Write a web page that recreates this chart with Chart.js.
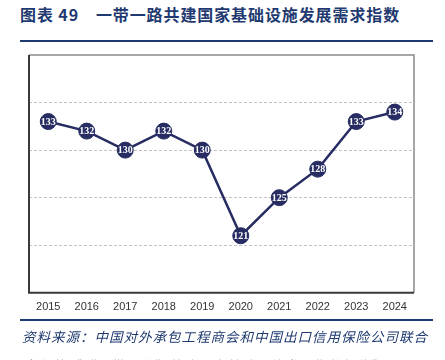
<!DOCTYPE html>
<html>
<head>
<meta charset="utf-8">
<script src="https://cdn.jsdelivr.net/npm/chart.js@4"></script>
<style>
  html, body { margin: 0; padding: 0; background: #fff; }
  body { width: 445px; height: 360px; position: relative; overflow: hidden; }
  #chart { position: absolute; left: 0; top: 0; }
  .title {
    position: absolute; left: 20px; top: 2px;
    font-family: "Noto Sans CJK SC", sans-serif; font-weight: 700;
    font-size: 16px; color: #1f3a70; letter-spacing: 0.9px; white-space: nowrap;
  }
  .rule { position: absolute; left: 20px; width: 413px; height: 2px; background: #1f3a70; }
  .source {
    position: absolute; left: 22px;
    font-family: "Noto Sans CJK SC", sans-serif; font-style: italic;
    font-size: 13.5px; color: #1f3a70; letter-spacing: 1px; white-space: nowrap;
  }
</style>
</head>
<body>
<div class="title">图表 49　一带一路共建国家基础设施发展需求指数</div>
<div class="rule" style="top:40px"></div>
<canvas id="chart" width="445" height="360"></canvas>
<div class="rule" style="top:319px"></div>
<div class="source" style="top:326px">资料来源：中国对外承包工程商会和中国出口信用保险公司联合</div>
<div class="source" style="top:355px">发布的《“一带一路”共建国家基础设施发展指数报告》</div>
<script>
const years = ["2015", "2016", "2017", "2018", "2019", "2020", "2021", "2022", "2023", "2024"];
const demandIndex = [133, 132, 130, 132, 130, 121, 125, 128, 133, 134];
const yMin = 115;
const yMax = 140;
const yStep = 5;

const navy = "#272d63";

// frame around plot + value labels inside markers
const framePlugin = {
  id: "frame",
  afterDraw(chart) {
    const { ctx, chartArea: a } = chart;
    ctx.save();
    ctx.lineWidth = 1.5;
    ctx.strokeStyle = "#8a8a8a";
    ctx.beginPath();
    ctx.moveTo(a.left, a.top);
    ctx.lineTo(a.right, a.top);
    ctx.lineTo(a.right, a.bottom);
    ctx.stroke();
    ctx.lineWidth = 2;
    ctx.strokeStyle = "#3a3a3a";
    ctx.beginPath();
    ctx.moveTo(a.left, a.top);
    ctx.lineTo(a.left, a.bottom);
    ctx.lineTo(a.right, a.bottom);
    ctx.stroke();

    const meta = chart.getDatasetMeta(0);
    ctx.fillStyle = "#fff";
    ctx.font = "bold 10px 'Liberation Serif', serif";
    ctx.textAlign = "center";
    ctx.textBaseline = "middle";
    meta.data.forEach((pt, i) => {
      ctx.fillText(String(demandIndex[i]), pt.x, pt.y + 0.5);
    });
    ctx.restore();
  }
};

new Chart(document.getElementById("chart"), {
  type: "line",
  data: {
    labels: years,
    datasets: [{
      data: demandIndex,
      borderColor: navy,
      borderWidth: 2.5,
      pointBackgroundColor: navy,
      pointBorderColor: navy,
      pointRadius: 8,
      pointBorderWidth: 1,
      tension: 0
    }]
  },
  options: {
    responsive: false,
    animation: false,
    layout: { padding: { left: 29, right: 31, top: 55, bottom: 46 } },
    plugins: {
      legend: { display: false },
      tooltip: { enabled: false }
    },
    scales: {
      x: {
        offset: true,
        grid: { display: false },
        border: { display: false },
        ticks: {
          color: "#333",
          font: { family: "Liberation Sans", size: 11 },
          padding: 0,
          maxRotation: 0
        }
      },
      y: {
        min: yMin,
        max: yMax,
        display: true,
        ticks: { display: false, stepSize: yStep },
        border: { display: false, dash: [3, 2] },
        grid: {
          drawTicks: false,
          color: c => (c.tick.value === yMin || c.tick.value === yMax) ? "rgba(0,0,0,0)" : "#c4c4c4",
          lineWidth: 1
        },
        afterFit(scale) { scale.width = 0; }
      }
    }
  },
  plugins: [framePlugin]
});
</script>
</body>
</html>
